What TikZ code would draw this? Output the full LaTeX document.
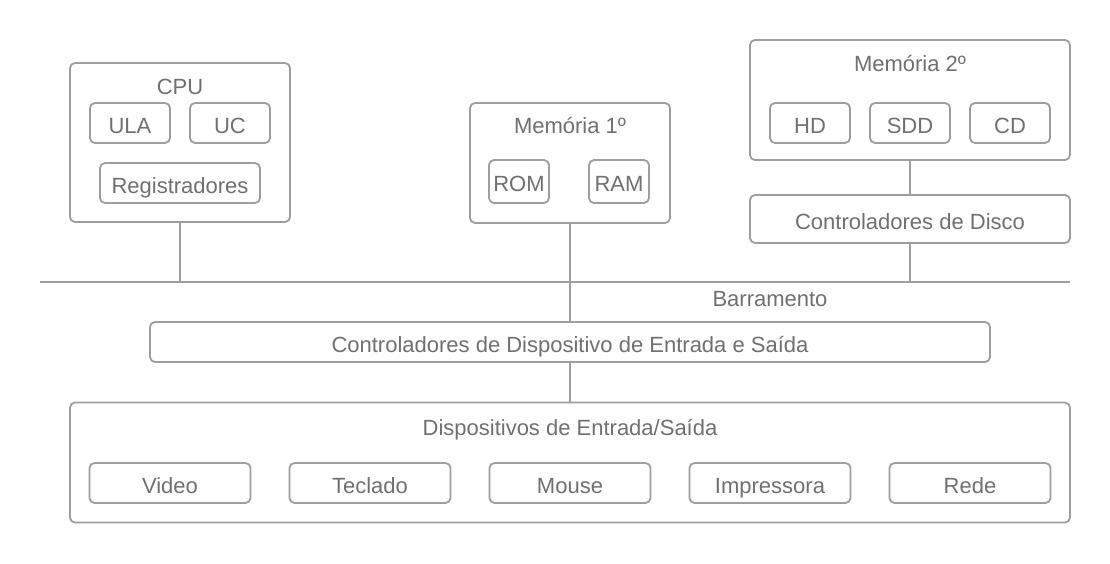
\documentclass[tikz,border=0pt]{standalone}
\usepackage{fontspec}
\setmainfont{Liberation Sans}
\definecolor{strk}{HTML}{9E9E9E}
\definecolor{txt}{HTML}{707070}
\tikzset{
  fnt/.style={font=\fontsize{22}{26}\selectfont, text height=20pt, text depth=0pt},
  box/.style={draw=strk, line width=1.8pt, rounded corners=5pt, inner sep=0pt,
    text=txt, fill=white, fnt},
  lbl/.style={text=txt, inner sep=0pt, fnt},
  conn/.style={draw=strk, line width=1.8pt},
}
\begin{document}
\begin{tikzpicture}[x=1pt,y=-1pt]
\useasboundingbox (0,0) rectangle (1110,563);
% bus
\coordinate (busL) at (40,282);
\coordinate (busR) at (1070,282);
\coordinate (bcpu) at (180,282);
\coordinate (bdisk) at (910,282);
\draw[conn] (busL) -- (busR);
\node[lbl] (barr) at (770,296) {Barramento};
% CPU
\node[box, minimum width=220, minimum height=159] (cpu) at (180,142.5) {};
\node[lbl] (cput) at (180,84) {CPU};
\node[box, minimum width=80, minimum height=40] (ula) at (130,123) {ULA};
\node[box, minimum width=80, minimum height=40] (uc) at (230,123) {UC};
\node[box, minimum width=160, minimum height=40] (reg) at (180,183) {Registradores};
% Memoria 1
\node[box, minimum width=200, minimum height=120] (mem1) at (570,163) {};
\node[lbl] (mem1t) at (570,123) {Memória 1º};
\node[box, minimum width=60, minimum height=43] (rom) at (519,181.5) {ROM};
\node[box, minimum width=60, minimum height=43] (ram) at (619,181.5) {RAM};
% Memoria 2
\node[box, minimum width=320, minimum height=120] (mem2) at (910,100) {};
\node[lbl] (mem2t) at (910,61) {Memória 2º};
\node[box, minimum width=80, minimum height=40] (hd) at (810,123) {HD};
\node[box, minimum width=80, minimum height=40] (sdd) at (910,123) {SDD};
\node[box, minimum width=80, minimum height=40] (cd) at (1010,123) {CD};
\node[box, minimum width=320, minimum height=48] (disco) at (910,219) {Controladores de Disco};
% Controladores ES
\node[box, minimum width=840, minimum height=40] (ctrles) at (570,342) {Controladores de Dispositivo de Entrada e Saída};
% Dispositivos
\node[box, minimum width=1000, minimum height=120] (disp) at (570,462.5) {};
\node[lbl] (dispt) at (570,425) {Dispositivos de Entrada/Saída};
\node[box, minimum width=161, minimum height=40] (video) at (170,483) {Video};
\node[box, minimum width=161, minimum height=40] (tecl) at (370,483) {Teclado};
\node[box, minimum width=161, minimum height=40] (mouse) at (570,483) {Mouse};
\node[box, minimum width=161, minimum height=40] (impr) at (770,483) {Impressora};
\node[box, minimum width=161, minimum height=40] (rede) at (970,483) {Rede};
% connectors
\draw[conn] (cpu.south) -- (bcpu);
\draw[conn] (mem1.south) -- (ctrles.north);
\draw[conn] (mem2.south) -- (disco.north);
\draw[conn] (disco.south) -- (bdisk);
\draw[conn] (ctrles.south) -- (disp.north);
\end{tikzpicture}
\end{document}
